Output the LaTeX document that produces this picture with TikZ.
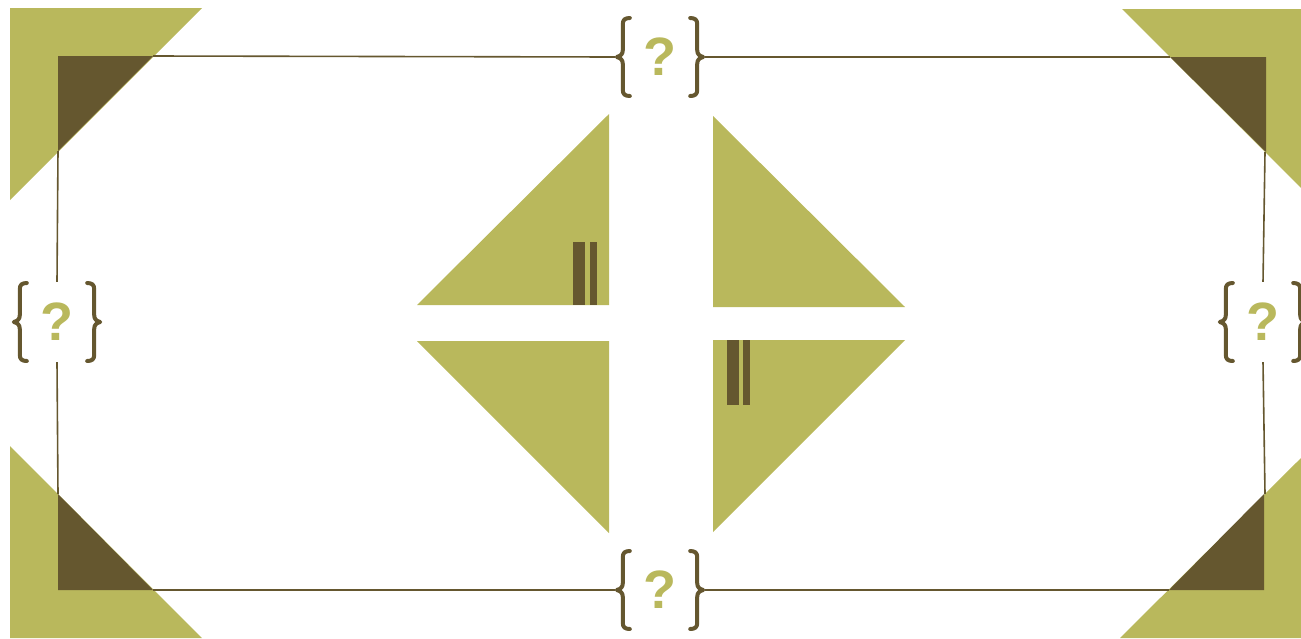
\documentclass[tikz,border=0pt]{standalone}
\usepackage{fontspec}
\setmainfont{Liberation Sans}
\definecolor{olive}{HTML}{B9B85C}
\definecolor{darkolive}{HTML}{65572F}
\tikzset{
  qgroup/.style={minimum width=90pt, minimum height=80pt, inner sep=0pt, text=olive,
    font=\bfseries\fontsize{54}{54}\selectfont},
  frameline/.style={draw=darkolive, line width=1.6pt},
  lightfill/.style={fill=olive},
  darkfill/.style={fill=darkolive},
  bracepic/.pic={\draw[darkolive, line width=4pt, line cap=round, line join=round]
    (15,-39) .. controls (10,-39) and (8,-37) .. (8,-33) -- (8,-7)
    .. controls (8,-3) and (6,-1) .. (2,0)
    .. controls (6,1) and (8,3) .. (8,7) -- (8,33)
    .. controls (8,37) and (10,39) .. (15,39);}
}
\begin{document}
\begin{tikzpicture}[x=1pt,y=-1pt]
\path[use as bounding box] (0,0) rectangle (1301,638);

% corner light triangles
\fill[lightfill] (10,8) -- (202,8) -- (10,200) -- cycle;
\fill[lightfill] (1122,9) -- (1301,9) -- (1301,188) -- cycle;
\fill[lightfill] (10,446) -- (10,638) -- (202,638) -- cycle;
\fill[lightfill] (1301,458) -- (1301,638) -- (1120,638) -- cycle;

% corner dark triangles
\fill[darkfill] (58,56) -- (153,56) -- (58,151) -- cycle;
\fill[darkfill] (1170,57) -- (1266,57) -- (1266,152) -- cycle;
\fill[darkfill] (58,494) -- (58,590) -- (153,590) -- cycle;
\fill[darkfill] (1264,494) -- (1264,590) -- (1169,590) -- cycle;

% corner coordinates
\coordinate (tlh) at (153,56);
\coordinate (tlv) at (58,151);
\coordinate (trh) at (1170,57);
\coordinate (trv) at (1265,152);
\coordinate (blh) at (153,590);
\coordinate (blv) at (58,494);
\coordinate (brh) at (1169,590);
\coordinate (brv) at (1265,494);

% question groups
\node[qgroup] (qt) at (660,57) {?};
\node[qgroup] (qb) at (660,590) {?};
\node[qgroup] (ql) at (57,322) {?};
\node[qgroup] (qr) at (1263,322) {?};

\foreach \n in {qt,qb,ql,qr}{
  \pic at (\n.west) {bracepic};
  \pic[xscale=-1] at (\n.east) {bracepic};
}

% frame lines
\draw[frameline] (tlh) -- (qt.west);
\draw[frameline] (qt.east) -- (trh);
\draw[frameline] (blh) -- (qb.west);
\draw[frameline] (qb.east) -- (brh);
\draw[frameline] (tlv) -- (ql.north);
\draw[frameline] (ql.south) -- (blv);
\draw[frameline] (trv) -- (qr.north);
\draw[frameline] (qr.south) -- (brv);

% central triangles
\fill[lightfill] (417,305) -- (609,305) -- (609,114) -- cycle;
\fill[lightfill] (713,116) -- (713,307) -- (905,307) -- cycle;
\fill[lightfill] (417,341) -- (609,341) -- (609,533) -- cycle;
\fill[lightfill] (713,340) -- (905,340) -- (713,532) -- cycle;

% bars
\fill[darkfill] (573,242) rectangle (585,305);
\fill[darkfill] (590,242) rectangle (597,305);
\fill[darkfill] (727,340) rectangle (739,405);
\fill[darkfill] (743,340) rectangle (750,405);
\end{tikzpicture}
\end{document}
